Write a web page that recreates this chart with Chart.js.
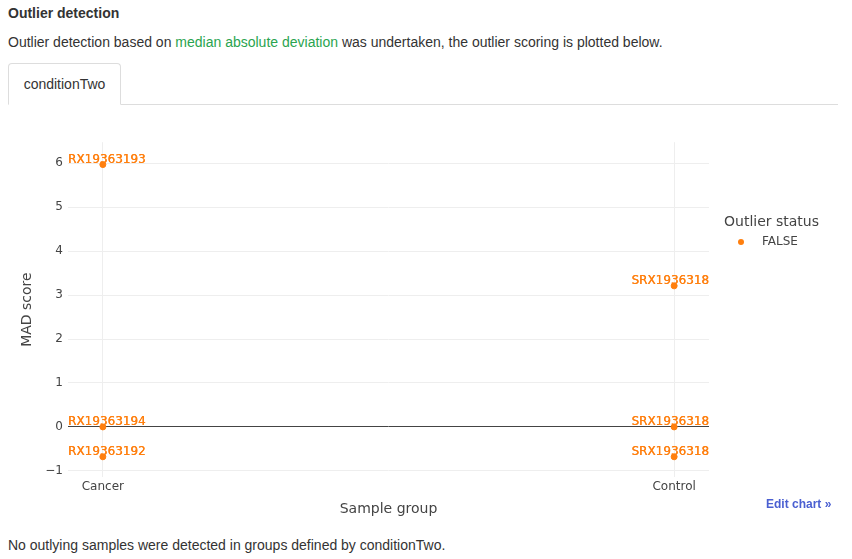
<!DOCTYPE html>
<html>
<head>
<meta charset="utf-8">
<script src="https://cdn.jsdelivr.net/npm/chart.js@4"></script>
<style>
  body { margin: 0; background: #fff; font-family: "Liberation Sans", Arial, sans-serif; color: #333; }
  .page { position: relative; width: 852px; height: 559px; }
  h4 { position: absolute; left: 8px; top: 5px; margin: 0; font-size: 14px; font-weight: bold; }
  .intro { position: absolute; left: 8px; top: 34px; margin: 0; font-size: 14px; }
  .intro a { color: #2aa44f; text-decoration: none; }
  .tabline { position: absolute; left: 8px; top: 104px; width: 830px; border-top: 1px solid #ddd; }
  .tab { position: absolute; left: 8px; top: 63px; width: 113px; height: 42px; border: 1px solid #ddd;
         border-bottom: 1px solid #fff; border-radius: 4px 4px 0 0; background: #fff; font-size: 14px;
         text-align: center; line-height: 40px; box-sizing: border-box; }
  #wrap { position: absolute; left: 0; top: 130px; width: 852px; height: 392px; }
  .legend { position: absolute; left: 724px; top: 213px; font-family: "DejaVu Sans", Verdana, sans-serif; color: #444; }
  .legend .title { font-size: 14px; }
  .legend .item { font-size: 12px; margin-top: 5px; position: relative; }
  .legend .dot { position: absolute; left: 14px; top: 5px; width: 6px; height: 6px; border-radius: 3px; background: #ff7f0e; }
  .legend .item span.lbl { padding-left: 38px; }
  .edit { position: absolute; left: 766px; top: 497px; font-size: 12px; font-weight: bold; color: #4a5fd1; }
  .foot { position: absolute; left: 8px; top: 537px; margin: 0; font-size: 14px; }
</style>
</head>
<body>
<div class="page">
  <h4>Outlier detection</h4>
  <p class="intro">Outlier detection based on <a href="#">median absolute deviation</a> was undertaken, the outlier scoring is plotted below.</p>
  <div class="tabline"></div>
  <div class="tab">conditionTwo</div>
  <div id="wrap"><canvas id="madChart"></canvas></div>
  <div class="legend">
    <div class="title">Outlier status</div>
    <div class="item"><span class="dot"></span><span class="lbl">FALSE</span></div>
  </div>
  <div class="edit">Edit chart »</div>
  <p class="foot">No outlying samples were detected in groups defined by conditionTwo.</p>
</div>
<script>
var categories = ["Cancer", "Control"];
var sampleGroup = [0, 0, 0, 1, 1, 1];
var sampleNames = ["RX19363193", "RX19363194", "RX19363192", "SRX1936318", "SRX1936318", "SRX1936318"];
var madScores = [5.97, 0, -0.68, 3.21, 0, -0.68];
var yTicks = [-1, 0, 1, 2, 3, 4, 5, 6];

var points = madScores.map(function (v, i) {
  return { x: sampleGroup[i], y: v, name: sampleNames[i] };
});

// labels above each point, kept inside the plot area
var pointLabels = {
  id: "pointLabels",
  afterDatasetsDraw: function (chart) {
    var ctx = chart.ctx;
    var area = chart.chartArea;
    var meta = chart.getDatasetMeta(0);
    ctx.save();
    ctx.font = "12px 'DejaVu Sans', Verdana, sans-serif";
    ctx.fillStyle = "#ff7f0e";
    ctx.textBaseline = "bottom";
    ctx.textAlign = "left";
    meta.data.forEach(function (el, i) {
      var txt = points[i].name;
      var w = ctx.measureText(txt).width;
      var x = el.x - w / 2;
      if (x < area.left) x = area.left;
      if (x + w > area.right) x = area.right - w;
      ctx.fillText(txt, x, el.y + 1);
      ctx.fillText(txt, x + 0.3, el.y + 1);
    });
    ctx.restore();
  }
};

var ctx = document.getElementById("madChart");
var madChart = new Chart(ctx, {
  type: "scatter",
  data: {
    datasets: [
      {
        label: "FALSE",
        data: points,
        backgroundColor: "#ff7f0e",
        borderColor: "#ff7f0e",
        pointRadius: 3,
        pointHoverRadius: 3,
      },
    ],
  },
  options: {
    responsive: true,
    maintainAspectRatio: false,
    animation: false,
    layout: { padding: { left: 15, top: 12, right: 143, bottom: 0 } },
    plugins: { legend: { display: false }, tooltip: { enabled: false } },
    scales: {
      x: {
        type: "linear",
        min: -0.061,
        max: 1.061,
        afterBuildTicks: function (scale) {
          scale.ticks = categories.map(function (c, i) { return { value: i }; });
        },
        afterFit: function (scale) { scale.height = 45; },
        ticks: {
          callback: function (v) { return categories[v]; },
          color: "#444",
          padding: 3,
          maxRotation: 0,
          font: { family: "'DejaVu Sans', Verdana, sans-serif", size: 12 },
        },
        grid: { color: "#eee", drawTicks: false },
        border: { display: false },
        title: {
          display: true,
          text: "Sample group",
          color: "#444",
          font: { family: "'DejaVu Sans', Verdana, sans-serif", size: 14 },
        },
      },
      y: {
        min: -1.14,
        max: 6.48,
        afterBuildTicks: function (scale) {
          scale.ticks = yTicks.map(function (v) { return { value: v }; });
        },
        afterFit: function (scale) { scale.width = 53; },
        ticks: {
          callback: function (v) { return v < 0 ? "\u2212" + Math.abs(v) : String(v); },
          color: "#444",
          padding: 5,
          font: { family: "'DejaVu Sans', Verdana, sans-serif", size: 12 },
        },
        grid: {
          color: function (c) { return c.tick && c.tick.value === 0 ? "#444" : "#eee"; },
          drawTicks: false,
        },
        border: { display: false },
        title: {
          display: true,
          text: "MAD score",
          color: "#444",
          font: { family: "'DejaVu Sans', Verdana, sans-serif", size: 14 },
        },
      },
    },
  },
  plugins: [pointLabels],
});
</script>
</body>
</html>
